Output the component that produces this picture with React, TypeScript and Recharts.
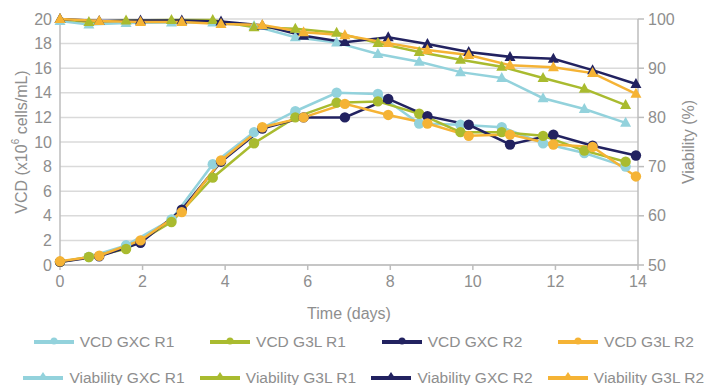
import { LineChart, Line, XAxis, YAxis, CartesianGrid } from "recharts";

// sampling days (R1 and R2 runs were sampled at slightly different times)
const r1Days = [0, 0.7, 1.6, 2.7, 3.7, 4.7, 5.7, 6.7, 7.7, 8.7, 9.7, 10.7, 11.7, 12.7, 13.7];
const r2Days = [0, 0.95, 1.95, 2.95, 3.9, 4.9, 5.9, 6.9, 7.95, 8.9, 9.9, 10.9, 11.95, 12.9, 13.95];

// VCD (x10^6 cells/mL)
const vcdGxcR1 = [0.25, 0.65, 1.6, 3.7, 8.2, 10.8, 12.5, 14.0, 13.9, 11.5, 11.4, 11.2, 9.9, 9.1, 8.0];
const vcdG3lR1 = [0.25, 0.65, 1.3, 3.5, 7.1, 9.9, 12.0, 13.2, 13.3, 12.3, 10.8, 10.8, 10.5, 9.3, 8.4];
const vcdGxcR2 = [0.25, 0.7, 1.8, 4.5, 8.4, 11.1, 12.0, 12.0, 13.5, 12.1, 11.4, 9.8, 10.6, 9.7, 8.9];
const vcdG3lR2 = [0.3, 0.75, 2.0, 4.3, 8.5, 11.2, 12.0, 13.1, 12.2, 11.5, 10.5, 10.6, 9.8, 9.6, 7.2];

// Viability (%)
const viaGxcR1 = [99.6, 98.9, 99.2, 99.3, 99.3, 98.6, 96.3, 95.2, 92.9, 91.3, 89.2, 88.0, 83.9, 81.7, 78.9];
const viaG3lR1 = [100, 99.4, 99.7, 99.8, 99.8, 98.3, 98.0, 97.2, 95.1, 93.3, 91.7, 90.3, 88.0, 85.8, 82.5];
const viaGxcR2 = [100, 99.6, 99.7, 99.7, 99.5, 98.7, 96.6, 95.3, 96.3, 94.9, 93.3, 92.3, 91.9, 89.6, 86.8];
const viaG3lR2 = [100, 99.6, 99.4, 99.4, 99.0, 98.8, 97.3, 96.7, 95.1, 93.7, 92.7, 90.6, 90.2, 89.0, 84.8];

const dayTicks = [0, 2, 4, 6, 8, 10, 12, 14];
const vcdTicks = [0, 2, 4, 6, 8, 10, 12, 14, 16, 18, 20];
const viaTicks = [50, 60, 70, 80, 90, 100];

const LIGHT_BLUE = "#93d2dc";
const GREEN = "#a9bb2f";
const NAVY = "#222260";
const ORANGE = "#f5b335";
const TEXT = "#8e8e8e";
const AXIS = "#bdbdbd";
const FONT = "'Liberation Sans', Arial, sans-serif";

const zip = (days: number[], vals: number[]) => days.map((d, i) => ({ day: d, v: vals[i] }));

const series = [
  { name: "VCD GXC R1", color: LIGHT_BLUE, data: zip(r1Days, vcdGxcR1), axis: "vcd", shape: "circle" },
  { name: "VCD G3L R1", color: GREEN, data: zip(r1Days, vcdG3lR1), axis: "vcd", shape: "circle" },
  { name: "VCD GXC R2", color: NAVY, data: zip(r2Days, vcdGxcR2), axis: "vcd", shape: "circle" },
  { name: "VCD G3L R2", color: ORANGE, data: zip(r2Days, vcdG3lR2), axis: "vcd", shape: "circle" },
  { name: "Viability GXC R1", color: LIGHT_BLUE, data: zip(r1Days, viaGxcR1), axis: "via", shape: "triangle" },
  { name: "Viability G3L R1", color: GREEN, data: zip(r1Days, viaG3lR1), axis: "via", shape: "triangle" },
  { name: "Viability GXC R2", color: NAVY, data: zip(r2Days, viaGxcR2), axis: "via", shape: "triangle" },
  { name: "Viability G3L R2", color: ORANGE, data: zip(r2Days, viaG3lR2), axis: "via", shape: "triangle" },
];

const makeDot = (shape: string, color: string) => (props: any) => {
  const { cx, cy, index } = props;
  if (cx == null || cy == null) return <g key={index} />;
  if (shape === "circle") {
    return <circle key={index} cx={cx} cy={cy} r={5.2} fill={color} />;
  }
  return (
    <polygon
      key={index}
      points={`${cx},${cy - 6} ${cx + 5.5},${cy + 4} ${cx - 5.5},${cy + 4}`}
      fill={color}
    />
  );
};

const VcdTitle = (props: any) => {
  const vb = props.viewBox || { y: 19, height: 246 };
  const cx = 21;
  const cy = vb.y + vb.height / 2;
  return (
    <text
      x={cx}
      y={cy}
      transform={`rotate(-90 ${cx} ${cy})`}
      textAnchor="middle"
      dominantBaseline="central"
      fill={TEXT}
      fontSize={16}
      fontFamily={FONT}
    >
      VCD (x10
      <tspan dy={-6} fontSize={10}>6</tspan>
      <tspan dy={6}> cells/mL)</tspan>
    </text>
  );
};

const ViaTitle = (props: any) => {
  const vb = props.viewBox || { y: 19, height: 246 };
  const cx = 688;
  const cy = vb.y + vb.height / 2;
  return (
    <text
      x={cx}
      y={cy}
      transform={`rotate(-90 ${cx} ${cy})`}
      textAnchor="middle"
      dominantBaseline="central"
      fill={TEXT}
      fontSize={16}
      fontFamily={FONT}
    >
      Viability (%)
    </text>
  );
};

const LegendIcon = ({ color, shape }: { color: string; shape: string }) => (
  <svg width={40} height={12} style={{ marginRight: 6, flex: "none" }}>
    <line x1={0} y1={6} x2={40} y2={6} stroke={color} strokeWidth={4} />
    {shape === "circle" ? (
      <circle cx={20} cy={5} r={3.5} fill={color} />
    ) : (
      <polygon points="20,0 24,6 16,6" fill={color} />
    )}
  </svg>
);

const rows = [series.slice(0, 4), series.slice(4, 8)];

export default function App() {
  return (
    <div style={{ position: "absolute", left: 0, top: 0, width: 708, height: 385, overflow: "hidden", background: "#fff" }}>
      <LineChart width={708} height={325} margin={{ top: 19, right: 0, bottom: 0, left: 0 }}>
        <CartesianGrid yAxisId="vcd" vertical={false} stroke="#dadada" strokeWidth={1.5} />
        <XAxis
          dataKey="day"
          type="number"
          domain={[0, 14]}
          ticks={dayTicks}
          allowDuplicatedCategory={false}
          height={60}
          stroke={AXIS}
          strokeWidth={1.5}
          tickSize={5}
          tickMargin={6}
          tick={{ fill: TEXT, fontSize: 16, fontFamily: FONT }}
          label={{ value: "Time (days)", position: "insideBottom", offset: 6, fill: TEXT, fontSize: 16, fontFamily: FONT }}
        />
        <YAxis
          yAxisId="vcd"
          orientation="left"
          domain={[0, 20]}
          ticks={vcdTicks}
          width={60}
          stroke={AXIS}
          strokeWidth={1.5}
          tickLine={false}
          tickSize={6}
          tickMargin={2}
          tick={{ fill: TEXT, fontSize: 16, fontFamily: FONT }}
          label={<VcdTitle />}
        />
        <YAxis
          yAxisId="via"
          orientation="right"
          domain={[50, 100]}
          ticks={viaTicks}
          width={70}
          stroke={AXIS}
          strokeWidth={1.5}
          tickSize={6}
          tickMargin={4}
          tick={{ fill: TEXT, fontSize: 16, fontFamily: FONT }}
          label={<ViaTitle />}
        />
        {series.map((s) => (
          <Line
            key={s.name}
            name={s.name}
            data={s.data}
            dataKey="v"
            yAxisId={s.axis}
            type="linear"
            stroke={s.color}
            strokeWidth={2.5}
            dot={makeDot(s.shape, s.color)}
            activeDot={false}
            isAnimationActive={false}
          />
        ))}
      </LineChart>
      {rows.map((row, ri) => (
        <div
          key={ri}
          style={{
            position: "absolute",
            left: 17,
            top: 330 + ri * 36,
            width: 700,
            height: 24,
            display: "flex",
            fontFamily: FONT,
            fontSize: 15.5,
            color: TEXT,
          }}
        >
          {row.map((s) => (
            <div
              key={s.name}
              style={{ width: 174, flex: "none", display: "flex", alignItems: "center", justifyContent: "center", whiteSpace: "nowrap" }}
            >
              <LegendIcon color={s.color} shape={s.shape} />
              <span>{s.name}</span>
            </div>
          ))}
        </div>
      ))}
    </div>
  );
}
